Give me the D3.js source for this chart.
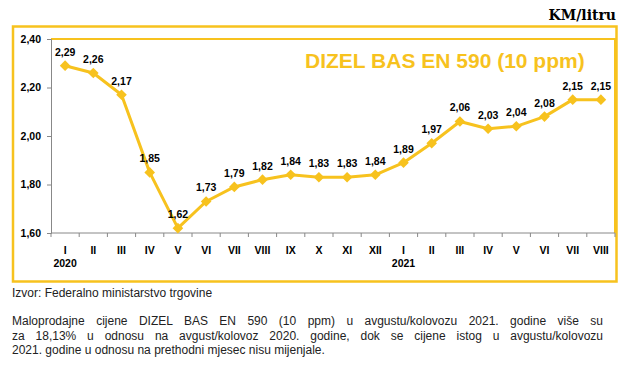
<!doctype html>
<html lang="bs">
<head>
  <meta charset="utf-8">
  <title>DIZEL BAS EN 590</title>
  <script src="https://d3js.org/d3.v7.min.js"></script>
  <style>
    body { margin: 0; background: #fff; }
    svg { display: block; font-family: Arial, "Liberation Sans", sans-serif; }
  </style>
</head>
<body>
  <script type="text/javascript">
    // chart data
    var months = ["I", "II", "III", "IV", "V", "VI", "VII", "VIII", "IX", "X", "XI", "XII",
                  "I", "II", "III", "IV", "V", "VI", "VII", "VIII"];
    var years = ["2020", "", "", "", "", "", "", "", "", "", "", "",
                 "2021", "", "", "", "", "", "", ""];
    var prices = [2.29, 2.26, 2.17, 1.85, 1.62, 1.73, 1.79, 1.82, 1.84, 1.83, 1.83, 1.84,
                  1.89, 1.97, 2.06, 2.03, 2.04, 2.08, 2.15, 2.15];
    var yTicks = [1.60, 1.80, 2.00, 2.20, 2.40];

    var title = "DIZEL BAS EN 590 (10 ppm)";
    var unit = "KM/litru";
    var source = "Izvor: Federalno ministarstvo trgovine";
    var notes = [
      "Maloprodajne cijene DIZEL BAS EN 590 (10 ppm) u avgustu/kolovozu 2021. godine više su",
      "za 18,13% u odnosu na avgust/kolovoz 2020. godine, dok se cijene istog u avgustu/kolovozu",
      "2021. godine u odnosu na prethodni mjesec nisu mijenjale."
    ];

    var gold = "#F7C21E";
    var width = 631, height = 382;
    var plot = { left: 51, right: 615, top: 39, bottom: 233 };

    var svg = d3.select("body").append("svg")
      .attr("width", width)
      .attr("height", height);

    var fmt = function(v) { return v.toFixed(2).replace(".", ","); };

    // scales
    var x = d3.scaleBand()
      .domain(d3.range(months.length))
      .range([plot.left, plot.right]);

    var y = d3.scaleLinear()
      .domain([1.6, 2.4])
      .range([plot.bottom, plot.top]);

    // unit label above the frame
    svg.append("text")
      .attr("x", 616).attr("y", 20)
      .attr("text-anchor", "end")
      .style("font-family", "'DejaVu Serif', serif")
      .style("font-weight", "bold")
      .style("font-size", "14px")
      .text(unit);

    // outer frame
    svg.append("rect")
      .attr("x", 13).attr("y", 26.5)
      .attr("width", 603.5).attr("height", 255)
      .attr("fill", "none")
      .attr("stroke", gold)
      .attr("stroke-width", 2.5);

    // plot area top/right border
    svg.append("path")
      .attr("d", "M" + plot.left + "," + plot.top + "H" + plot.right + "V" + plot.bottom)
      .attr("fill", "none")
      .attr("stroke", gold)
      .attr("stroke-width", 2);

    // title
    svg.append("text")
      .attr("x", 305).attr("y", 68)
      .style("font-weight", "bold")
      .style("font-size", "21px")
      .attr("fill", gold)
      .text(title);

    // y axis
    var yAxis = d3.axisLeft(y)
      .tickValues(yTicks)
      .tickSize(4)
      .tickPadding(6)
      .tickFormat(fmt);

    var yAxisGroup = svg.append("g")
      .attr("transform", "translate(" + plot.left + ",0)")
      .call(yAxis);

    // x axis, ticks on band boundaries
    var xAxisGroup = svg.append("g")
      .attr("transform", "translate(0," + plot.bottom + ")");

    xAxisGroup.append("path")
      .attr("d", "M" + plot.left + ",0H" + plot.right)
      .attr("stroke", "#888");

    xAxisGroup.selectAll("line.tick")
      .data(d3.range(months.length + 1))
      .join("line")
      .attr("class", "tick")
      .attr("x1", function(i) { return plot.left + i * x.step(); })
      .attr("x2", function(i) { return plot.left + i * x.step(); })
      .attr("y1", 0).attr("y2", 4)
      .attr("stroke", "#888");

    xAxisGroup.selectAll("text.month")
      .data(months)
      .join("text")
      .attr("class", "month")
      .attr("x", function(d, i) { return x(i) + x.bandwidth() / 2; })
      .attr("y", 21)
      .attr("text-anchor", "middle")
      .text(function(d) { return d; });

    xAxisGroup.selectAll("text.year")
      .data(years)
      .join("text")
      .attr("class", "year")
      .attr("x", function(d, i) { return x(i) + x.bandwidth() / 2; })
      .attr("y", 34)
      .attr("text-anchor", "middle")
      .text(function(d) { return d; });

    // axis styling
    yAxisGroup.selectAll("path.domain").attr("stroke", "#888");
    yAxisGroup.selectAll(".tick line").attr("stroke", "#888");
    svg.selectAll("g text")
      .style("font-weight", "bold")
      .style("font-size", "10.5px")
      .style("font-family", "Arial, 'Liberation Sans', sans-serif")
      .attr("fill", "#000");

    // the line
    var line = d3.line()
      .x(function(d, i) { return x(i) + x.bandwidth() / 2; })
      .y(function(d) { return y(d); });

    svg.append("path")
      .datum(prices)
      .attr("fill", "none")
      .attr("stroke", gold)
      .attr("stroke-width", 3)
      .attr("stroke-linejoin", "round")
      .attr("d", line);

    // diamond markers
    svg.selectAll("path.marker")
      .data(prices)
      .join("path")
      .attr("class", "marker")
      .attr("d", d3.symbol().type(d3.symbolDiamond2).size(72))
      .attr("transform", function(d, i) {
        return "translate(" + (x(i) + x.bandwidth() / 2) + "," + y(d) + ")";
      })
      .attr("fill", gold);

    // value labels
    svg.selectAll("text.value")
      .data(prices)
      .join("text")
      .attr("class", "value")
      .attr("x", function(d, i) { return x(i) + x.bandwidth() / 2; })
      .attr("y", function(d) { return y(d) - 10; })
      .attr("text-anchor", "middle")
      .style("font-weight", "bold")
      .style("font-size", "10.5px")
      .text(fmt);

    // source line
    svg.append("text")
      .attr("x", 12).attr("y", 297)
      .style("font-size", "12px")
      .attr("fill", "#222")
      .text(source);

    // note paragraph, first lines justified to the frame width
    var noteLeft = 12, noteRight = 603;
    notes.forEach(function(t, i) {
      var txt = svg.append("text")
        .attr("x", noteLeft).attr("y", 325 + i * 14.5)
        .style("font-size", "12px")
        .attr("fill", "#222")
        .text(t);
      if (i < notes.length - 1) {
        var gaps = t.split(" ").length - 1;
        var extra = (noteRight - noteLeft - txt.node().getComputedTextLength()) / gaps;
        txt.style("word-spacing", extra + "px");
      }
    });
  </script>
</body>
</html>
